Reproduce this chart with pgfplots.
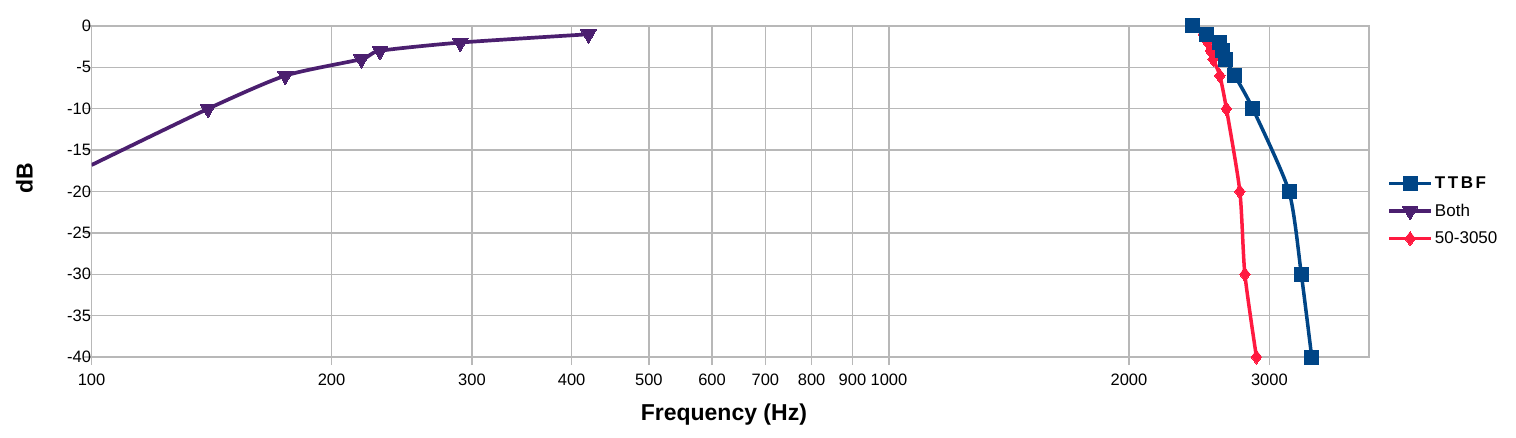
\documentclass[border=0pt]{standalone}
\usepackage{pgfplots}
\pgfplotsset{compat=1.18}
\usepackage{fontspec}
\setmainfont{Liberation Sans}
\definecolor{cBlue}{HTML}{004586}
\definecolor{cPurple}{HTML}{4B1F6F}
\definecolor{cRed}{HTML}{FF1A40}
\definecolor{cGrid}{HTML}{B8B8B8}
\begin{document}
\begin{tikzpicture}
\useasboundingbox (0,0) rectangle (1516pt,437pt);
\begin{axis}[
  at={(91.5pt,80pt)}, anchor=south west,
  scale only axis, width=1277.5pt, height=331pt,
  xmode=log, xmin=100, xmax=4000, ymin=-40, ymax=0,
  xtick={100,200,300,400,500,600,700,800,900,1000,2000,3000},
  xticklabels={100,200,300,400,500,600,700,800,900,1000,2000,3000},
  xminorticks=false,
  ytick={-40,-35,-30,-25,-20,-15,-10,-5,0},
  yticklabels={-40,-35,-30,-25,-20,-15,-10,-5,0},
  grid=major, grid style={cGrid, line width=1.3pt},
  axis line style={cGrid, line width=1.3pt},
  tick style={cGrid, line width=1.3pt},
  tick align=outside, major tick length=8pt,
  xtick pos=left, ytick pos=left,
  ticklabel style={font=\fontsize{16.5}{18}\selectfont, text=black},
  xticklabel shift={5pt},
  yticklabel shift={-11pt},
  /pgf/number format/assume math mode=true,
  xlabel={Frequency (Hz)}, ylabel={dB},
  label style={font=\fontsize{23}{26}\selectfont\bfseries},
  xlabel style={at={(axis description cs:0.495,-0.175)}, anchor=center},
  ylabel style={at={(axis description cs:-0.0525,0.541)}, anchor=center, rotate=0},
  clip mode=individual,
  legend image code/.code={\draw[mark repeat=2,mark phase=2] plot coordinates {(0pt,0pt) (21pt,0pt) (42pt,0pt)};},
  legend style={at={(axis description cs:1.0118,0.441)}, anchor=west, draw=none, fill=none,
    font=\fontsize{17}{19}\selectfont, row sep=10pt},
  legend cell align=left,
  reverse legend,
]
\addplot[cRed, line width=3.5pt, smooth, tension=0.4, mark=diamond*, mark size=7pt,
  mark options={line width=0pt}]
coordinates {(2400,0) (2480,-1) (2512,-2) (2530,-3) (2550,-4) (2600,-6) (2650,-10) (2755,-20) (2795,-30) (2890,-40)};
\addlegendentry{50-3050}
\addplot[cPurple, line width=3.7pt, smooth, tension=0.4, mark=triangle*, mark size=9pt,
  mark options={rotate=180, line width=0pt}, mark indices={2,3,4,5,6,7},
  legend image post style={mark indices={2}}]
coordinates {(100,-16.8) (140,-10) (175,-6) (218,-4) (230,-3) (290,-2) (420,-1)};
\addlegendentry{Both}
\addplot[cBlue, line width=3.5pt, smooth, tension=0.4, mark=square*, mark size=7pt,
  mark options={line width=0pt}]
coordinates {(2400,0) (2500,-1) (2595,-2) (2620,-3) (2640,-4) (2715,-6) (2860,-10) (3175,-20) (3290,-30) (3390,-40)};
\addlegendentry{\textbf{T\kern2.5pt T\kern2.5pt B\kern2.5pt F}}
\end{axis}
\end{tikzpicture}
\end{document}
